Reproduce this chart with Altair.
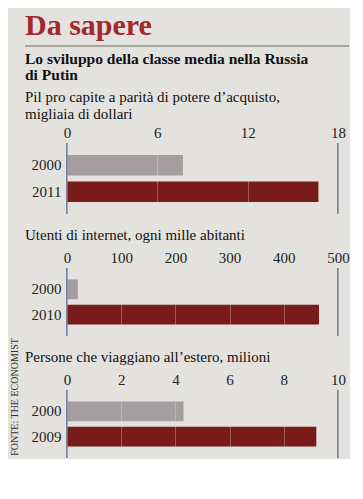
import altair as alt
import pandas as pd

# ---- data ----
p1_years = ["2000", "2011"]
p1_values = [7.7, 16.7]
p1_ticks = [0, 6, 12, 18]

p2_years = ["2000", "2010"]
p2_values = [20, 465]
p2_ticks = [0, 100, 200, 300, 400, 500]

p3_years = ["2000", "2009"]
p3_values = [4.3, 9.2]
p3_ticks = [0, 2, 4, 6, 8, 10]

periods = ["early", "late"]

title_main = "Da sapere"
title_sub = ["Lo sviluppo della classe media nella Russia", "di Putin"]
p1_title = ["Pil pro capite a parità di potere d’acquisto,", "migliaia di dollari"]
p2_title = "Utenti di internet, ogni mille abitanti"
p3_title = "Persone che viaggiano all’estero, milioni"
source = ["FONTE: THE ECONOMIST"]

# ---- style ----
BG = "#e3e2de"
GRAY = "#a59ea1"
RED = "#7a1b1b"
LINE = "#33407a"
SERIF = "Liberation Serif"
W = 271
DX = -42


def panel(years, values, ticks, title, height, first=False, with_source=False):
    df = pd.DataFrame({"year": years, "value": values, "period": periods})
    x = alt.X(
        "value:Q",
        scale=alt.Scale(domain=[ticks[0], ticks[-1]], nice=False, zero=True),
        axis=alt.Axis(
            orient="top", values=ticks, title=None, domain=False, ticks=False,
            labelFlush=False, labelPadding=3, labelFontSize=15, labelFont=SERIF,
            labelColor="#222222", grid=True, gridColor="#f0e4c8",
            gridOpacity=0.4, gridWidth=0.8, zindex=1,
        ),
    )
    yaxis = alt.Axis(
        title=None, domain=False, ticks=False, labelFontSize=15,
        labelFont=SERIF, labelColor="#222222", labelPadding=6,
    )
    y = alt.Y(
        "year:N", sort=years,
        scale=alt.Scale(paddingInner=0.22, paddingOuter=0.45),
        axis=yaxis,
    )
    bars = alt.Chart(df).mark_bar().encode(
        x=x, y=y,
        color=alt.Color("period:N", scale=alt.Scale(domain=periods, range=[GRAY, RED]), legend=None),
    )
    edges = pd.DataFrame({"value": [ticks[0], ticks[-1]]})
    rules = alt.Chart(edges).mark_rule(color=LINE, strokeWidth=1.2).encode(x="value:Q")
    layers = [bars, rules]
    if with_source:
        # vertical source note, placed beside the third panel (below this one)
        src = alt.Chart(pd.DataFrame({"label": source})).mark_text(
            angle=270, font=SERIF, fontSize=10, color="#333333",
            align="center", baseline="alphabetic",
        ).encode(text="label:N", x=alt.value(-49), y=alt.value(129))
        layers.append(src)
    if first:
        t = alt.TitleParams(
            text=title_sub, subtitle=title, anchor="start", frame="group", dx=DX,
            font=SERIF, fontSize=15.5, fontWeight="bold", color="#111111", lineHeight=16,
            subtitleFont=SERIF, subtitleFontSize=15, subtitleColor="#111111",
            subtitleLineHeight=17, subtitlePadding=7, offset=3,
        )
    else:
        t = alt.TitleParams(
            text=title, anchor="start", frame="group", dx=DX, font=SERIF,
            fontSize=15, fontWeight="normal", color="#111111", offset=7,
        )
    return alt.layer(*layers).properties(width=W, height=height, title=t)


header = alt.Chart(pd.DataFrame({"a": [0]})).mark_rule(color="#666666", strokeWidth=1).encode(
    x=alt.value(DX), x2=alt.value(282), y=alt.value(0)
).properties(
    width=W, height=1,
    title=alt.TitleParams(
        text=title_main, anchor="start", frame="group", dx=DX, font=SERIF,
        fontSize=30, fontWeight="bold", color="#a3282b", offset=5,
    ),
)

p1 = panel(p1_years, p1_values, p1_ticks, p1_title, 71, first=True)
p2 = panel(p2_years, p2_values, p2_ticks, p2_title, 68, with_source=True)
p3 = panel(p3_years, p3_values, p3_ticks, p3_title, 68)

inner = alt.vconcat(p1, p2, p3, spacing=54, bounds="flush")
chart = alt.vconcat(header, inner, spacing=4).properties(
    background=BG, padding={"left": 2, "top": 2, "right": 0, "bottom": 0}
).configure_view(stroke=None)

chart.save("out.html", embed_options={"renderer": "svg", "actions": False})
